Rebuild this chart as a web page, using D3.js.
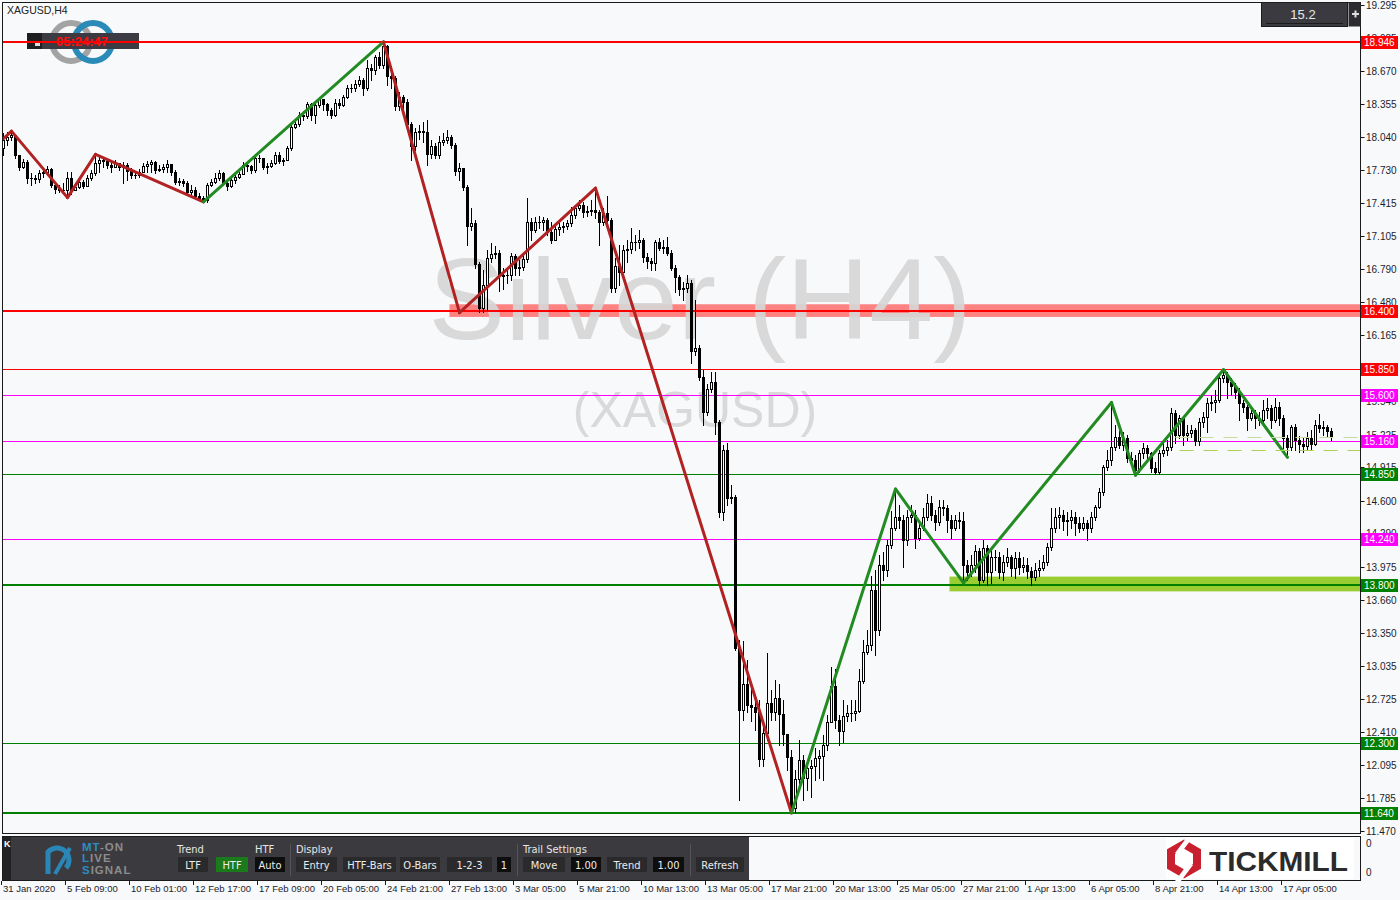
<!DOCTYPE html>
<html><head><meta charset="utf-8">
<script src="https://cdn.jsdelivr.net/npm/d3@7"></script>
<style>html,body{margin:0;padding:0;background:#f8f9fb;}svg{display:block;}</style>
</head><body>
<svg id="chart" width="1400" height="900"></svg>
<script>
// ---------------- DATA ----------------
const symbolLabel = "XAGUSD,H4";
const watermarkTitle = "Silver (H4)";
const watermarkSub = "(XAGUSD)";
const lastPriceText = "15.2";
const clockText = "05:24:47";
const firstOpen = 17.94;
const closes = [
18.02,18.04,18.06,17.87,17.76,17.81,17.66,17.66,17.65,17.70,
17.71,17.74,17.59,17.55,17.54,17.54,17.66,17.54,17.57,17.62,
17.58,17.66,17.70,17.80,17.83,17.82,17.78,17.76,17.80,17.76,
17.78,17.72,17.68,17.68,17.71,17.77,17.79,17.81,17.73,17.74,
17.76,17.79,17.71,17.62,17.63,17.61,17.52,17.54,17.49,17.47,
17.45,17.59,17.62,17.66,17.70,17.61,17.58,17.64,17.67,17.69,
17.78,17.77,17.73,17.85,17.85,17.76,17.77,17.80,17.87,17.82,
17.83,17.94,18.14,18.17,18.25,18.24,18.36,18.25,18.35,18.40,
18.36,18.30,18.25,18.37,18.35,18.42,18.51,18.51,18.55,18.58,
18.51,18.70,18.68,18.80,18.73,18.91,18.62,18.60,18.34,18.42,
18.38,18.17,17.96,18.09,18.10,18.09,17.88,17.96,17.87,18.00,
18.02,18.04,17.97,17.72,17.75,17.57,17.20,17.23,16.84,16.42,
16.64,16.90,16.94,16.95,16.73,16.74,16.74,16.92,16.80,16.81,
16.89,17.24,17.16,17.24,17.24,17.26,17.14,17.07,17.17,17.19,
17.20,17.23,17.31,17.37,17.40,17.33,17.34,17.35,17.33,17.24,
17.32,17.26,16.61,16.82,16.77,16.97,16.98,17.05,17.05,17.07,
16.91,16.87,16.85,17.05,16.99,17.00,16.95,16.80,16.72,16.60,
16.61,16.66,16.02,16.05,15.77,15.44,15.66,15.72,15.34,14.49,
15.08,14.62,14.63,13.20,12.62,12.86,12.66,12.64,12.60,12.15,
12.40,12.68,12.60,12.73,12.58,12.39,12.17,11.69,11.96,12.14,
11.97,12.07,12.09,12.16,12.18,12.28,12.50,12.84,12.52,12.42,
12.56,12.59,12.59,12.61,12.89,13.17,13.23,13.75,13.37,13.99,
13.94,14.18,14.34,14.44,14.42,14.23,14.44,14.46,14.25,14.34,
14.44,14.58,14.46,14.40,14.54,14.53,14.42,14.34,14.42,14.41,
13.99,13.92,13.99,14.12,13.85,14.15,13.92,14.07,14.07,13.92,
14.02,14.07,13.96,14.06,13.97,13.99,13.93,13.88,13.94,13.96,
14.02,14.16,14.34,14.44,14.46,14.41,14.42,14.44,14.39,14.34,
14.39,14.34,14.44,14.54,14.68,14.92,14.98,15.11,15.20,15.13,
15.19,15.00,14.98,14.89,15.05,15.10,15.05,14.91,14.87,15.05,
15.08,15.11,15.43,15.22,15.38,15.22,15.24,15.27,15.16,15.34,
15.39,15.52,15.53,15.55,15.76,15.79,15.72,15.69,15.63,15.52,
15.49,15.38,15.43,15.38,15.36,15.46,15.48,15.36,15.49,15.38,
15.19,15.11,15.30,15.17,15.14,15.12,15.19,15.14,15.32,15.29,
15.30,15.26,15.20];
const highs = [
18.08,18.09,18.10,18.06,17.87,17.84,17.83,17.70,17.68,17.73,
17.75,17.77,17.75,17.62,17.59,17.61,17.71,17.71,17.61,17.65,
17.64,17.68,17.73,17.88,17.87,17.84,17.83,17.82,17.83,17.80,
17.81,17.80,17.75,17.71,17.74,17.80,17.82,17.83,17.82,17.78,
17.79,17.83,17.79,17.73,17.66,17.65,17.63,17.59,17.57,17.51,
17.49,17.61,17.65,17.70,17.73,17.71,17.64,17.67,17.68,17.71,
17.81,17.80,17.78,17.87,17.87,17.85,17.80,17.83,17.90,17.90,
17.85,17.96,18.17,18.20,18.28,18.29,18.38,18.37,18.38,18.42,
18.40,18.37,18.32,18.40,18.40,18.44,18.54,18.55,18.58,18.62,
18.60,18.77,18.74,18.82,18.85,18.95,18.92,18.72,18.62,18.47,
18.44,18.40,18.19,18.13,18.16,18.19,18.21,18.02,17.99,18.05,
18.08,18.11,18.06,17.99,17.80,17.75,17.59,17.37,17.26,16.86,
16.78,16.97,17.04,17.01,16.97,16.80,16.78,16.95,16.94,16.88,
16.93,17.47,17.28,17.29,17.30,17.29,17.28,17.24,17.20,17.23,
17.24,17.26,17.38,17.40,17.45,17.43,17.39,17.45,17.56,17.35,
17.37,17.49,17.28,16.90,17.02,17.02,17.07,17.18,17.12,17.16,
17.09,16.95,16.90,17.07,17.09,17.07,17.10,16.97,16.83,16.74,
16.67,16.74,16.69,16.50,16.07,15.84,15.70,15.82,15.82,15.36,
15.13,15.15,14.75,14.65,13.28,13.27,13.09,12.88,12.76,12.71,
12.52,13.16,12.81,12.90,12.86,12.71,12.38,12.24,12.05,12.33,
12.19,12.14,12.14,12.26,12.24,12.38,12.57,13.02,13.00,12.57,
12.71,12.66,12.71,12.71,13.00,13.28,13.37,13.89,13.94,14.08,
14.11,14.23,14.50,14.71,14.56,14.46,14.51,14.56,14.51,14.42,
14.53,14.66,14.64,14.51,14.61,14.61,14.56,14.46,14.46,14.49,
14.49,14.04,14.08,14.18,14.15,14.23,14.18,14.15,14.13,14.11,
14.08,14.15,14.08,14.11,14.11,14.07,14.06,13.97,14.01,14.04,
14.08,14.20,14.53,14.53,14.54,14.51,14.49,14.51,14.49,14.44,
14.44,14.42,14.49,14.56,14.72,14.94,15.08,15.53,15.32,15.27,
15.25,15.22,15.06,15.03,15.08,15.15,15.13,15.06,14.97,15.08,
15.15,15.17,15.48,15.46,15.41,15.36,15.32,15.32,15.29,15.38,
15.44,15.57,15.60,15.65,15.79,15.84,15.82,15.76,15.71,15.67,
15.55,15.51,15.48,15.46,15.44,15.55,15.57,15.51,15.57,15.53,
15.41,15.22,15.32,15.33,15.21,15.19,15.25,15.27,15.36,15.42,
15.35,15.32,15.29];
const lows = [
17.87,17.97,18.02,17.85,17.73,17.75,17.61,17.59,17.61,17.62,
17.67,17.70,17.57,17.51,17.52,17.51,17.47,17.50,17.54,17.56,
17.56,17.58,17.64,17.68,17.71,17.76,17.75,17.71,17.76,17.73,
17.61,17.64,17.66,17.66,17.67,17.71,17.71,17.71,17.70,17.72,
17.71,17.71,17.68,17.60,17.59,17.58,17.50,17.50,17.47,17.45,
17.43,17.43,17.58,17.61,17.64,17.59,17.54,17.57,17.61,17.66,
17.69,17.72,17.70,17.71,17.81,17.74,17.70,17.76,17.79,17.80,
17.78,17.83,17.92,18.13,18.15,18.21,18.22,18.21,18.18,18.33,
18.30,18.25,18.22,18.24,18.32,18.34,18.41,18.47,18.48,18.53,
18.44,18.49,18.58,18.64,18.70,18.70,18.54,18.51,18.30,18.30,
18.32,18.14,17.83,17.92,18.03,18.00,17.78,17.85,17.85,17.85,
17.97,17.99,17.94,17.68,17.64,17.54,17.02,17.16,16.80,16.39,
16.39,16.41,16.86,16.90,16.59,16.60,16.66,16.69,16.74,16.74,
16.78,16.86,17.07,17.14,17.18,17.16,17.12,17.04,17.09,17.12,
17.14,17.17,17.20,17.28,17.35,17.29,17.30,17.31,17.28,17.02,
17.21,17.24,16.58,16.58,16.64,16.78,16.86,16.95,16.97,16.99,
16.86,16.80,16.78,16.78,16.97,16.95,16.93,16.78,16.58,16.55,
16.50,16.58,15.90,15.98,15.74,15.32,15.41,15.63,15.23,14.44,
14.42,14.56,14.58,13.18,11.76,12.52,12.60,12.51,12.43,12.09,
12.09,12.33,12.52,12.52,12.28,12.28,12.05,11.64,11.65,11.86,
11.76,11.86,11.79,11.95,11.97,11.95,12.24,12.51,12.45,12.28,
12.31,12.51,12.51,12.52,12.60,12.87,13.15,13.18,13.14,13.33,
13.85,13.89,14.15,14.32,14.34,13.97,14.18,14.40,14.15,14.23,
14.32,14.42,14.42,14.32,14.37,14.46,14.30,14.25,14.32,14.34,
13.82,13.85,13.89,13.92,13.80,13.83,13.80,13.82,13.94,13.87,
13.85,13.98,13.89,13.87,13.90,13.92,13.87,13.80,13.85,13.89,
13.94,13.99,14.13,14.30,14.34,14.32,14.27,14.34,14.27,14.30,
14.32,14.23,14.30,14.42,14.53,14.65,14.89,14.94,15.08,15.10,
15.08,14.97,14.94,14.84,14.87,15.00,14.98,14.87,14.85,14.85,
15.02,15.03,15.08,15.15,15.19,15.13,15.17,15.20,15.13,15.13,
15.30,15.25,15.46,15.44,15.53,15.72,15.57,15.60,15.57,15.36,
15.44,15.27,15.36,15.29,15.32,15.34,15.38,15.29,15.34,15.32,
15.10,15.01,15.08,15.08,15.06,15.06,15.08,15.08,15.13,15.25,
15.22,15.21,15.17];

const priceTicks = [19.295,18.985,18.670,18.355,18.040,17.730,17.415,17.105,16.790,16.480,16.165,15.850,15.540,15.225,14.915,14.600,14.290,13.975,13.660,13.350,13.035,12.725,12.410,12.095,11.785,11.470];
const timeLabels = ["31 Jan 2020","5 Feb 09:00","10 Feb 01:00","12 Feb 17:00","17 Feb 09:00","20 Feb 05:00","24 Feb 21:00","27 Feb 13:00","3 Mar 05:00","5 Mar 21:00","10 Mar 13:00","13 Mar 05:00","17 Mar 21:00","20 Mar 13:00","25 Mar 05:00","27 Mar 21:00","1 Apr 13:00","6 Apr 05:00","8 Apr 21:00","14 Apr 13:00","17 Apr 05:00"];
const timeLabelBars = [0,16,32,48,64,80,96,112,128,144,160,176,192,208,224,240,256,272,288,304,320];

const levelValues = [18.946,16.400,15.850,15.600,15.160,14.850,14.240,13.800,12.300,11.640];
const levelKinds  = ["resistance","resistance","resistance","pivot","pivot","support","pivot","support","support","support"];
const majorLevels = [18.946,16.400,13.800,11.640];

const zoneLow   = [16.34,13.74];
const zoneHigh  = [16.46,13.88];
const zoneStart = [112,237];
const zoneKinds = ["resistance","support"];

const dashedLevels = [15.20,15.08];
const dashedStart = [293,294];

const zzBars   = [0,2,16,23,50,95,114,148,197,223,240,277,283,305,321];
const zzPrices = [18.03,18.10,17.47,17.88,17.43,18.946,16.38,17.56,11.64,14.71,13.82,15.53,14.84,15.84,15.01];
const zzTrend  = ["down","down","down","down","up","down","down","down","up","up","up","up","up","up"];

const subAxisLabels = ["0","0"];

// ---------------- DRAW ----------------
const svg = d3.select("#chart");
const W = 1400, H = 900;
const plotL = 2.5, plotR = 1360.5, plotT = 2.5, plotB = 833.5;
const FONT = "'Liberation Sans', Arial, sans-serif";
const NFONT = "'DejaVu Sans Condensed','Liberation Sans Narrow','Liberation Sans',sans-serif";

const N = closes.length;
const x = d3.scaleLinear().domain([0, N - 1]).range([3.5, 3.5 + 4 * (N - 1)]);
const y = d3.scaleLinear().domain([11.470, 19.295]).range([831, 5]);

const colorOf = {resistance:"#ff0000", pivot:"#ff00ff", support:"#008000"};
const zoneColor = {resistance:"rgba(255,90,90,0.75)", support:"#9acd32"};
const zzColor = {down:"#b22222", up:"#228b22"};

svg.append("rect").attr("width", W).attr("height", H).attr("fill", "#f8f9fb");

const clip = svg.append("defs").append("clipPath").attr("id","plotclip");
clip.append("rect").attr("x",3).attr("y",3).attr("width",1357).attr("height",830);
const plot = svg.append("g").attr("clip-path","url(#plotclip)");

// MT-ON rings logo (top-left)
plot.append("circle").attr("cx",71).attr("cy",42).attr("r",19).attr("fill","none").attr("stroke","#a3a3a3").attr("stroke-width",6);
plot.append("circle").attr("cx",93).attr("cy",42).attr("r",19).attr("fill","none").attr("stroke","#2a8ab8").attr("stroke-width",6);
// clock bar
plot.append("rect").attr("x",27).attr("y",33).attr("width",112).attr("height",16).attr("fill","#3c3b43");
plot.append("rect").attr("x",27).attr("y",33).attr("width",15).attr("height",16).attr("fill","#1f1f22");
plot.append("rect").attr("x",35).attr("y",42).attr("width",5).attr("height",4).attr("fill","#dddddd");
plot.append("text").attr("x",82).attr("y",46).attr("text-anchor","middle").attr("font-family",FONT)
  .attr("font-weight","bold").attr("font-size",13).attr("fill","#ff1010").text(clockText);

// zones
zoneLow.forEach((lo,i)=>{
  plot.append("rect").attr("x", x(zoneStart[i]) - 2).attr("y", y(zoneHigh[i]))
    .attr("width", plotR - x(zoneStart[i]) + 2).attr("height", y(lo) - y(zoneHigh[i]))
    .attr("fill", zoneColor[zoneKinds[i]]);
});

// watermark
plot.append("text").attr("x",700).attr("y",339).attr("text-anchor","middle").attr("font-family",FONT)
  .attr("font-size",115).attr("fill","#d6d6d6").attr("fill-opacity",0.92).text(watermarkTitle);
plot.append("text").attr("x",695).attr("y",427).attr("text-anchor","middle").attr("font-family",FONT)
  .attr("font-size",50).attr("fill","#d6d6d6").attr("fill-opacity",0.92).text(watermarkSub);

// level lines
const levelG = plot.append("g").attr("shape-rendering","crispEdges");
levelValues.forEach((v,i)=>{
  const w = majorLevels.includes(v) ? 2 : 1;
  const yy = Math.round(y(v)) + (w === 1 ? 0.5 : 0);
  levelG.append("line").attr("x1",3).attr("x2",plotR).attr("y1",yy).attr("y2",yy)
    .attr("stroke", colorOf[levelKinds[i]]).attr("stroke-width", w);
});

// candles
const candles = plot.append("g").attr("shape-rendering","crispEdges");
closes.forEach((c,i)=>{
  const o = i === 0 ? firstOpen : closes[i-1];
  const hi = Math.max(highs[i], o, c), lo = Math.min(lows[i], o, c);
  const cx = Math.floor(x(i)) + 0.5;
  const top = Math.round(y(Math.max(o,c))), bot = Math.round(y(Math.min(o,c)));
  candles.append("line").attr("x1",cx).attr("x2",cx).attr("y1",Math.round(y(hi))).attr("y2",Math.round(y(lo))+1)
    .attr("stroke","#000").attr("stroke-width",1);
  if (bot - top < 2) {
    candles.append("rect").attr("x",cx-1.5).attr("y",top).attr("width",3).attr("height",Math.max(1,bot-top+1)).attr("fill","#000");
  } else if (c >= o) {
    candles.append("rect").attr("x",cx-1).attr("y",top+0.5).attr("width",2).attr("height",bot-top)
      .attr("fill","#fff").attr("stroke","#000").attr("stroke-width",1);
  } else {
    candles.append("rect").attr("x",cx-1.5).attr("y",top).attr("width",3).attr("height",bot-top+1).attr("fill","#000");
  }
});

// zigzag
for (let k = 0; k < zzTrend.length; k++) {
  plot.append("line")
    .attr("x1", x(zzBars[k])).attr("y1", y(zzPrices[k]))
    .attr("x2", x(zzBars[k+1])).attr("y2", y(zzPrices[k+1]))
    .attr("stroke", zzColor[zzTrend[k]]).attr("stroke-width", 3).attr("stroke-linecap","round");
}

// dashed levels
dashedLevels.forEach((v,i)=>{
  const yy = Math.round(y(v)) + 0.5;
  plot.append("line").attr("x1", x(dashedStart[i])).attr("x2", plotR).attr("y1",yy).attr("y2",yy)
    .attr("stroke", i===0 ? "#c8dca0" : "#a9d15a").attr("stroke-width",1).attr("stroke-dasharray","14,10");
});

// frames
svg.append("rect").attr("x",plotL).attr("y",plotT).attr("width",plotR-plotL).attr("height",plotB-plotT)
  .attr("fill","none").attr("stroke","#1a1a1a").attr("stroke-width",1);
svg.append("rect").attr("x",plotL).attr("y",836.5).attr("width",plotR-plotL).attr("height",44)
  .attr("fill","none").attr("stroke","#1a1a1a").attr("stroke-width",1);

// price axis (tick labels fully hidden under a level box are skipped)
const axisG = svg.append("g");
priceTicks.forEach(p=>{
  const yy = Math.round(y(p)) + 0.5;
  axisG.append("line").attr("x1",plotR).attr("x2",plotR+4).attr("y1",yy).attr("y2",yy).attr("stroke","#1a1a1a");
  const hidden = levelValues.some(v => Math.abs(y(v) - y(p)) < 3);
  if (!hidden) axisG.append("text").attr("x",1366).attr("y",yy+3.5).attr("font-family",FONT).attr("font-size",10)
    .attr("fill","#1c1c2a").text(p.toFixed(3));
});
// level label boxes
levelValues.forEach((v,i)=>{
  const yy = Math.round(y(v)) + 0.5;
  axisG.append("rect").attr("x",1361).attr("y",yy-6.5).attr("width",37).attr("height",13).attr("fill",colorOf[levelKinds[i]]);
  axisG.append("text").attr("x",1364).attr("y",yy+3.5).attr("font-family",FONT).attr("font-size",10)
    .attr("fill","#ffffff").text(v.toFixed(3));
});
// sub-window axis
axisG.append("text").attr("x",1366).attr("y",847).attr("font-family",FONT).attr("font-size",10).attr("fill","#1c1c2a").text(subAxisLabels[0]);
axisG.append("text").attr("x",1366).attr("y",876).attr("font-family",FONT).attr("font-size",10).attr("fill","#1c1c2a").text(subAxisLabels[1]);

// time axis
timeLabels.forEach((t,i)=>{
  const xx = Math.floor(x(timeLabelBars[i])) - 1.5;
  svg.append("line").attr("x1",xx).attr("x2",xx).attr("y1",881).attr("y2",885).attr("stroke","#1a1a1a");
  svg.append("text").attr("x",xx+1.5).attr("y",892).attr("font-family",FONT).attr("font-size",9.5)
    .attr("fill","#1c1c2a").text(t);
});

// symbol label
svg.append("text").attr("x",7).attr("y",14).attr("font-family",FONT).attr("font-size",10.5).attr("fill","#222").text(symbolLabel);

// top-right price box
svg.append("rect").attr("x",1261.5).attr("y",2.5).attr("width",86).attr("height",24).attr("fill","#3a3a40").attr("stroke","#1c1c1c");
svg.append("line").attr("x1",1266).attr("x2",1343).attr("y1",23.5).attr("y2",23.5).attr("stroke","#1c1c1c");
svg.append("text").attr("x",1303).attr("y",19).attr("text-anchor","middle").attr("font-family",FONT).attr("font-size",13).attr("fill","#e8e8e8").text(lastPriceText);
svg.append("rect").attr("x",1348.5).attr("y",2.5).attr("width",12).attr("height",24).attr("fill","#2c2c30");
svg.append("path").attr("d","M1352,14h7M1355.5,10.5v7").attr("stroke","#ddd").attr("stroke-width",2);

// bottom control panel
const pn = svg.append("g");
pn.append("rect").attr("x",3).attr("y",837).attr("width",746).attr("height",43).attr("fill","#3b3a3f");
pn.append("rect").attr("x",3).attr("y",837).attr("width",8).attr("height",43).attr("fill","#222225");
pn.append("text").attr("x",4).attr("y",847).attr("font-family",FONT).attr("font-weight","bold").attr("font-size",9).attr("fill","#fff").text("K");
// MT-ON logo
pn.append("path").attr("d","M48,874 L48,852 A11,11 0 1 1 66,868").attr("fill","none").attr("stroke","#2b86b8").attr("stroke-width",5);
pn.append("path").attr("d","M55,874 L70,848").attr("fill","none").attr("stroke","#2b86b8").attr("stroke-width",4);
const logoRows = [["MT","-ON",851],["L","IVE",862],["S","IGNAL",874]];
logoRows.forEach(r=>{
  const t = pn.append("text").attr("x",82).attr("y",r[2]).attr("font-family",FONT).attr("font-weight","bold")
    .attr("font-size",11.5).attr("letter-spacing",1);
  t.append("tspan").attr("fill","#2b8cc4").text(r[0]);
  t.append("tspan").attr("fill","#8c8c8c").text(r[1]);
});
const headers = [["Trend",177],["HTF",255],["Display",296],["Trail Settings",523]];
headers.forEach(h=>pn.append("text").attr("x",h[1]).attr("y",853).attr("font-family",NFONT).attr("font-size",11).attr("fill","#e6e6e6").text(h[0]));
const buttons = [
  ["LTF",178,30,"#2a2a2d"],["HTF",216,32,"#1b7a1b"],["Auto",255,30,"#0e0e0e"],
  ["Entry",296,41,"#2a2a2d"],["HTF-Bars",343,53,"#2a2a2d"],["O-Bars",400,40,"#2a2a2d"],["1-2-3",447,45,"#2a2a2d"],["1",497,14,"#0e0e0e"],
  ["Move",523,42,"#2a2a2d"],["1.00",571,30,"#0e0e0e"],["Trend",607,40,"#2a2a2d"],["1.00",653,31,"#0e0e0e"],
  ["Refresh",696,48,"#2a2a2d"]];
buttons.forEach(b=>{
  pn.append("rect").attr("x",b[1]).attr("y",857).attr("width",b[2]).attr("height",15).attr("fill",b[3]);
  pn.append("text").attr("x",b[1]+b[2]/2).attr("y",868.5).attr("text-anchor","middle").attr("font-family",NFONT)
    .attr("font-size",11).attr("fill","#ececec").text(b[0]);
});
[290,517,690].forEach(sx=>pn.append("line").attr("x1",sx+0.5).attr("x2",sx+0.5).attr("y1",844).attr("y2",876).attr("stroke","#55545a"));

// Tickmill logo
const tk = svg.append("g");
tk.append("rect").attr("x",1166).attr("y",838).attr("width",188).attr("height",41).attr("fill","#ffffff");
const hx = 1184, hy = 859, hr = 15;
const hex = d3.range(6).map(k=>{const a = Math.PI/180*(60*k-90); return [hx+hr*Math.cos(a), hy+hr*Math.sin(a)];});
tk.append("path").attr("d","M"+hex.map(p=>p.join(",")).join("L")+"Z").attr("fill","none").attr("stroke","#c8202e").attr("stroke-width",8).attr("stroke-linejoin","miter");
tk.append("path").attr("d",`M${hx+3},${hy-22} L${hx+9},${hy-22} L${hx-3},${hy-6} L${hx-9},${hy-6}Z`).attr("fill","#fff");
tk.append("path").attr("d",`M${hx-3},${hy+22} L${hx-9},${hy+22} L${hx+3},${hy+6} L${hx+9},${hy+6}Z`).attr("fill","#fff");
tk.append("text").attr("x",1209).attr("y",871).attr("font-family",FONT).attr("font-weight","bold").attr("font-size",28)
  .attr("fill","#2b2b2b").attr("textLength",139).attr("lengthAdjust","spacingAndGlyphs").text("TICKMILL");
</script>
</body></html>
